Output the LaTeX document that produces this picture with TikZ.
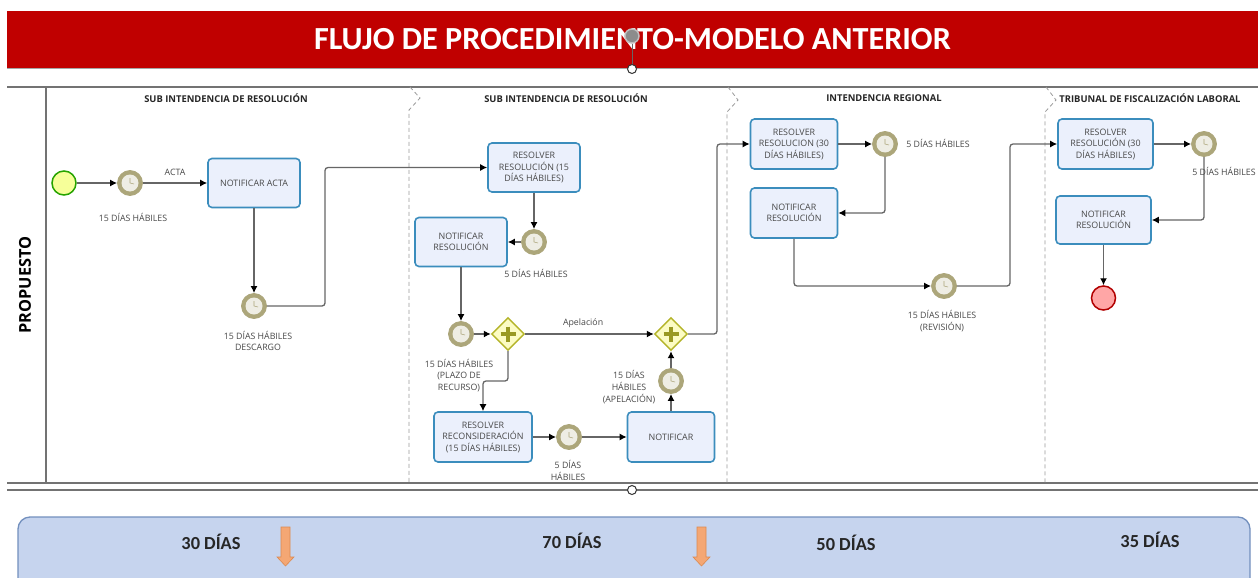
\documentclass[tikz,border=0pt]{standalone}
\usepackage{fontspec}
\setmainfont{Open Sans}
\newfontfamily\titlefont{Carlito}
\usetikzlibrary{arrows.meta,calc,shapes.geometric}
\definecolor{headred}{HTML}{C00000}
\definecolor{lineg}{HTML}{666666}
\definecolor{boxblue}{HTML}{3B8DBD}
\definecolor{boxfill}{HTML}{EBF0FC}
\definecolor{clockc}{HTML}{ACA67A}
\definecolor{gatec}{HTML}{B4B428}
\definecolor{gatef}{HTML}{FCFCC4}
\definecolor{bandf}{HTML}{C6D4EE}
\definecolor{bandd}{HTML}{7390BE}
\definecolor{txtg}{HTML}{484848}
\definecolor{flechaf}{HTML}{F4A774}
\definecolor{flechad}{HTML}{DC8A50}
\tikzset{
    block/.style = {draw=boxblue, fill=boxfill, rectangle, rounded corners=4pt, line width=1.6pt,
        minimum height=49pt,
        minimum width=92pt, align=center, inner sep=0pt,
        font=\fontsize{8.9}{11.5}\selectfont, text=txtg},
    startev/.style = {draw=green!55!black!80!lime, fill=lime!35!yellow!40, circle, line width=1.5pt, minimum size=24pt, inner sep=0pt},
    endev/.style = {draw=red!70!black, fill=red!35!white, circle, line width=1.5pt, minimum size=24pt, inner sep=0pt},
    timer/.style = {draw=clockc, fill=clockc, circle, line width=.8pt, minimum size=25pt, inner sep=0pt,
        path picture={
            \fill[white!80!clockc] (path picture bounding box.center) circle (8.5pt);
            \draw[clockc, line width=.6pt] (path picture bounding box.center) -- +(0,-5) (path picture bounding box.center) -- +(4,1);
        }},
    gateway/.style = {draw=gatec, fill=gatef, diamond, aspect=1, line width=1.4pt, minimum size=33pt, inner sep=0pt,
        path picture={
            \draw[gatec!85!black, line width=3.2pt] (path picture bounding box.center) +(-7.5,0) -- +(7.5,0) +(0,-7.5) -- +(0,7.5);
        }},
    conn/.style = {draw=lineg, line width=1.3pt, rounded corners=3pt, -{Latex[black,length=7pt,width=7pt]}},
    nota/.style = {font=\fontsize{8.8}{11.8}\selectfont, text=txtg, align=center, inner sep=0pt},
    lane/.style = {font=\bfseries\fontsize{9.4}{11}\selectfont, text=black!85, inner sep=0pt},
    dias/.style = {font=\titlefont\bfseries\fontsize{18.4}{20}\selectfont, text=black!85, inner sep=0pt},
    sep/.style = {draw=black!40, line width=.8pt, dash pattern=on 4pt off 3pt},
    pool/.style = {draw=black!55, line width=1.3pt},
    handle/.style = {draw=black!80, fill=white, circle, line width=1pt, minimum size=9pt, inner sep=0pt},
    flecha/.style = {draw=flechad, fill=flechaf, line width=.6pt}
}
\begin{document}
\begin{tikzpicture}[x=1pt,y=-1pt,auto,node distance=60pt]
    \clip (0,0) rectangle (1258,578);
    \fill[white] (0,0) rectangle (1258,578);

    \fill[headred] (7,11) rectangle (1258,68);
    \draw[black!35, line width=1pt] (7,68.5) -- (1258,68.5);
    \node [text=white, font=\titlefont\bfseries\fontsize{32.2}{34}\selectfont, inner sep=0pt] (titulo) at (632.5,39.5) {FLUJO DE PROCEDIMIENTO-MODELO ANTERIOR};
    \node [handle, draw=white!75!black, fill=black!45, line width=1.5pt, minimum size=14pt] (giro) at (632,36) {};
    \node [handle] (tirador) at (632,69) {};
    \draw[black!60, line width=.8pt] (giro) -- (tirador);

    \draw[pool] (7,87) -- (1258,87);
    \draw[pool] (7,483) -- (1258,483);
    \draw[pool] (7,490) -- (1258,490);
    \draw[pool] (46,87) -- (46,483);
    \node [handle] (tirador2) at (632,490) {};
    \node [rotate=90, font=\bfseries\fontsize{16.3}{18}\selectfont, inner sep=0pt] (propuesto) at (25,285) {PROPUESTO};

    \draw[sep] (410,87) -- (420,98) -- (409,110) -- (409,483);
    \draw[sep] (728,87) -- (738,100) -- (727,112) -- (727,483);
    \draw[sep] (1046,87) -- (1056,100) -- (1045,112) -- (1045,483);

    \node [lane] (lane1) at (226,98) {SUB INTENDENCIA DE RESOLUCIÓN};
    \node [lane] (lane2) at (566,98) {SUB INTENDENCIA DE RESOLUCIÓN};
    \node [lane] (lane3) at (884,98) {INTENDENCIA REGIONAL};
    \node [lane] (lane4) at (1150,98) {TRIBUNAL DE FISCALIZACIÓN LABORAL};

    \node [startev] (inicio) at (64,183) {};
    \node [timer,right of=inicio,node distance=66pt] (t1) {};
    \node [block,right of=t1,node distance=124pt] (acta) {NOTIFICAR ACTA};
    \node [timer,below of=acta,node distance=123pt] (t2) {};
    \draw[conn] (inicio) -- (t1);
    \draw[conn] (t1) -- node[nota,pos=.5,yshift=7pt] (etacta) {ACTA} (acta);
    \draw[conn] (acta) -- (t2);
    \node [nota] (n1) at (133,217.5) {15 DÍAS HÁBILES};
    \node [nota] (n2) at (258,341) {15 DÍAS HÁBILES\\DESCARGO};

    \node [block] (b1) at (534,167.5) {RESOLVER\\RESOLUCIÓN (15\\DÍAS HÁBILES)};
    \coordinate (c1) at (325,167.5);
    \draw[conn] (t2) -| (c1) -- (b1);
    \node [timer,below of=b1,node distance=74.5pt] (t3) {};
    \node [block,left of=t3,node distance=73pt] (b2) {NOTIFICAR\\RESOLUCIÓN};
    \draw[conn] (b1) -- (t3);
    \draw[conn] (t3) -- (b2);
    \node [nota] (n3) at (536,273) {5 DÍAS HÁBILES};

    \node [timer,below of=b2,node distance=92pt] (t4) {};
    \node [gateway,right of=t4,node distance=47pt] (g1) {};
    \node [gateway,right of=g1,node distance=163pt] (g2) {};
    \draw[conn] (b2) -- (t4);
    \draw[conn] (t4) -- (g1);
    \draw[conn] (g1) -- node[nota,pos=.45,yshift=6pt] (etape) {Apelación} (g2);
    \node [nota] (n4) at (459,375.5) {15 DÍAS HÁBILES\\(PLAZO DE\\RECURSO)};

    \node [block,minimum width=98pt,minimum height=50pt] (b3) at (483,437) {RESOLVER\\RECONSIDERACIÓN\\(15 DÍAS HÁBILES)};
    \coordinate (c2) at (495,381);
    \draw[conn] (g1) |- (c2) -| (b3);
    \node [timer,right of=b3,node distance=86pt] (t5) {};
    \node [block,minimum width=87pt,minimum height=50pt,right of=t5,node distance=102pt] (b4) {NOTIFICAR};
    \node [timer,above of=b4,node distance=56pt] (t6) {};
    \draw[conn] (b3) -- (t5);
    \draw[conn] (t5) -- (b4);
    \draw[conn] (b4) -- (t6);
    \draw[conn] (t6) -- (g2);
    \node [nota] (n5) at (568,470.5) {5 DÍAS\\HÁBILES};
    \node [nota] (n6) at (629,387) {15 DÍAS\\HÁBILES\\(APELACIÓN)};

    \node [block,minimum width=87pt,minimum height=50pt] (b5) at (794,144) {RESOLVER\\RESOLUCION (30\\DÍAS HÁBILES)};
    \coordinate (c3) at (717,144);
    \draw[conn] (g2) -| (c3) -- (b5);
    \node [timer,right of=b5,node distance=91pt] (t7) {};
    \node [block,minimum width=87pt,minimum height=50pt,below of=b5,node distance=69pt] (b6) {NOTIFICAR\\RESOLUCIÓN};
    \draw[conn] (b5) -- (t7);
    \draw[conn] (t7) |- (b6);
    \node [nota] (n7) at (938,143) {5 DÍAS HÁBILES};

    \node [timer] (t8) at (944,286) {};
    \draw[conn] (b6) |- (t8);
    \node [nota] (n8) at (942,321) {15 DÍAS HÁBILES\\(REVISIÓN)};

    \node [block,minimum width=95pt,minimum height=50pt] (b7) at (1105.5,144) {RESOLVER\\RESOLUCIÓN (30\\DÍAS HÁBILES)};
    \coordinate (c4) at (1010,144);
    \draw[conn] (t8) -| (c4) -- (b7);
    \node [timer,right of=b7,node distance=98.5pt] (t9) {};
    \node [block,minimum width=95pt,minimum height=48pt] (b8) at (1103.5,220) {NOTIFICAR\\RESOLUCIÓN};
    \draw[conn] (b7) -- (t9);
    \draw[conn] (t9) |- (b8);
    \node [nota] (n9) at (1224,171) {5 DÍAS HÁBILES};
    \node [endev] (fin) at (1103.5,298) {};
    \draw[conn] (b8) -- (fin);

    \draw[draw=bandd, fill=bandf, line width=1.3pt, rounded corners=12pt] (18,517) rectangle (1250,600);
    \node [dias] (d1) at (211,542) {30 DÍAS};
    \node [dias] (d2) at (572,541) {70 DÍAS};
    \node [dias] (d3) at (846,543) {50 DÍAS};
    \node [dias] (d4) at (1150,540) {35 DÍAS};
    \draw[flecha] (281,527) -- (290,527) -- (290,557) -- (294,557) -- (285.5,566) -- (277,557) -- (281,557) -- cycle;
    \draw[flecha] (697,527) -- (706,527) -- (706,557) -- (710,557) -- (701.5,566) -- (693,557) -- (697,557) -- cycle;
\end{tikzpicture}
\end{document}
